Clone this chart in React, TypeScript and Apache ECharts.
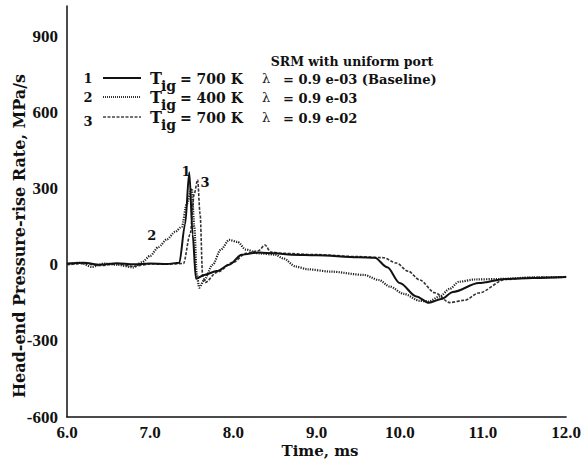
import React, { useEffect, useRef } from "react";
import * as echarts from "echarts";

const X_TICKS = [6, 7, 8, 9, 10, 11, 12];
const Y_MIN = -600;
const Y_MAX = 1020;
const Y_STEP = 300;

const T1 = [6.0, 6.2, 6.4, 6.6, 6.8, 7.0, 7.2, 7.35, 7.42, 7.47, 7.51, 7.55, 7.65, 7.8, 7.95, 8.1, 8.3, 8.5, 8.7, 9.0, 9.5, 9.7, 9.85, 10.0, 10.2, 10.35, 10.5, 10.64, 10.95, 11.27, 11.6, 12.0];
const V1 = [5, 8, 0, 6, 2, 5, 3, 8, 160, 365, 120, -55, -40, -25, 0, 40, 48, 45, 40, 38, 30, 28, -10, -72, -125, -150, -135, -107, -72, -56, -52, -48];

const T2 = [6.0, 6.15, 6.3, 6.45, 6.6, 6.8, 6.9, 7.0, 7.1, 7.2, 7.3, 7.38, 7.44, 7.5, 7.53, 7.56, 7.59, 7.65, 7.75, 7.85, 7.95, 8.05, 8.15, 8.3, 8.5, 8.6, 8.75, 8.9, 9.17, 9.57, 9.75, 9.88, 10.05, 10.24, 10.35, 10.48, 10.6, 10.71, 10.9, 11.19, 11.6, 12.0];
const V2 = [2, 8, -8, 5, 0, -10, 10, 35, 70, 100, 130, 150, 240, 300, 150, -40, -90, -60, 0, 60, 98, 90, 60, 45, 40, 25, -7, -18, -27, -40, -60, -86, -115, -142, -145, -125, -95, -67, -58, -56, -50, -48];

const T3 = [6.0, 6.2, 6.4, 6.6, 6.8, 7.0, 7.2, 7.4, 7.48, 7.53, 7.57, 7.6, 7.63, 7.66, 7.8, 8.0, 8.15, 8.3, 8.38, 8.45, 8.6, 9.0, 9.5, 9.8, 9.96, 10.1, 10.24, 10.42, 10.6, 10.78, 10.95, 11.27, 11.6, 12.0];
const V3 = [0, 5, -3, 4, -6, 3, 2, 5, 120, 280, 335, 200, -40, -70, -30, 10, 45, 55, 78, 50, 45, 40, 32, 28, 7, -25, -60, -110, -149, -140, -111, -58, -50, -48];

const CURVE_LABELS = ["1", "2", "3"];
const LABEL_POS: [number, number][] = [[7.43, 367], [7.02, 117], [7.66, 326]];

const TITLE = "SRM with uniform port";
const X_NAME = "Time, ms";
const Y_NAME = "Head-end Pressure-rise Rate, MPa/s";
const LEGEND_TEMPS = ["700 K", "400 K", "700 K"];
const LEGEND_LAMBDAS = ["= 0.9 e-03 (Baseline)", "= 0.9 e-03", "= 0.9 e-02"];

const zip = (t: number[], v: number[]) => t.map((x, i) => [x, v[i]]);

const SERIF = "'Liberation Serif', serif";
const WIDE = "'DejaVu Serif', serif";

export default function App() {
  const ref = useRef<HTMLDivElement>(null);
  useEffect(() => {
    if (!ref.current) return;
    const chart = echarts.init(ref.current, null, { renderer: "svg" });
    const lineStyles: any[] = [
      { color: "#111", width: 2, type: "solid" },
      { color: "#222", width: 2.2, type: [1.2, 1.2] },
      { color: "#333", width: 1.6, type: [3, 1.5] },
    ];
    const datas = [zip(T1, V1), zip(T2, V2), zip(T3, V3)];
    const series = datas.map((d, i) => ({
      type: "line",
      data: d,
      showSymbol: false,
      symbol: "none",
      smooth: 0.3,
      smoothMonotone: "x",
      lineStyle: lineStyles[i],
      z: 3 - i,
      markPoint: {
        symbol: "circle",
        symbolSize: 0,
        data: [
          {
            coord: LABEL_POS[i],
            label: {
              show: true,
              formatter: CURVE_LABELS[i],
              color: "#111",
              fontFamily: WIDE,
              fontWeight: "bold",
              fontSize: 13,
            },
          },
        ],
      },
    }));

    const g: any[] = [];
    const rowY = [78, 97, 117];
    const styles = [
      { stroke: "#111", lineWidth: 2 },
      { stroke: "#333", lineWidth: 2, lineDash: [1, 1] },
      { stroke: "#444", lineWidth: 1.5, lineDash: [3, 1.5] },
    ];
    rowY.forEach((y, i) => {
      const dy = i === 2 ? 4 : 0;
      g.push({
        type: "text",
        x: 88,
        y: y + dy,
        style: { text: CURVE_LABELS[i], font: `bold 13px ${WIDE}`, fill: "#111", align: "center", verticalAlign: "middle" },
      });
      g.push({
        type: "line",
        shape: { x1: 103, y1: y, x2: 141, y2: y },
        style: styles[i],
      });
      g.push({
        type: "text",
        x: 150,
        y: y,
        style: { text: "T", font: `bold 16px ${WIDE}`, fill: "#111", verticalAlign: "middle" },
      });
      g.push({
        type: "text",
        x: 161,
        y: y + 8,
        style: { text: "ig", font: `bold 14px ${WIDE}`, fill: "#111", verticalAlign: "middle" },
      });
      g.push({
        type: "text",
        x: 180,
        y: y + 1,
        style: { text: "= " + LEGEND_TEMPS[i], font: `bold 14px ${WIDE}`, fill: "#111", verticalAlign: "middle" },
      });
      g.push({
        type: "text",
        x: 262,
        y: y,
        style: { text: "λ", font: `13px ${WIDE}`, fill: "#222", verticalAlign: "middle" },
      });
      g.push({
        type: "text",
        x: 283,
        y: y + 1,
        style: { text: LEGEND_LAMBDAS[i], font: `bold 13px ${WIDE}`, fill: "#111", verticalAlign: "middle" },
      });
    });
    g.push({
      type: "text",
      x: 352,
      y: 61,
      style: { text: TITLE, font: `bold 12.5px ${WIDE}`, fill: "#111", align: "center", verticalAlign: "middle" },
    });
    g.push({
      type: "text",
      x: 19,
      y: 236,
      rotation: Math.PI / 2,
      style: { text: Y_NAME, font: `bold 16px ${WIDE}`, fill: "#111", align: "center", verticalAlign: "middle" },
    });
    g.push({
      type: "text",
      x: 320,
      y: 451,
      style: { text: X_NAME, font: `bold 15px ${WIDE}`, fill: "#111", align: "center", verticalAlign: "middle" },
    });

    chart.setOption({
      animation: false,
      backgroundColor: "#fff",
      grid: { left: 67, right: 13, top: 6, bottom: 49, containLabel: false },
      xAxis: {
        type: "value",
        min: X_TICKS[0],
        max: X_TICKS[X_TICKS.length - 1],
        interval: 1,
        axisLine: { onZero: false, lineStyle: { color: "#111", width: 1.5 } },
        axisTick: { show: false },
        splitLine: { show: false },
        axisLabel: {
          formatter: (v: number) => v.toFixed(1),
          fontFamily: SERIF,
          fontWeight: "bold",
          fontSize: 17,
          color: "#111",
          margin: 7,
        },
      },
      yAxis: {
        type: "value",
        min: Y_MIN,
        max: Y_MAX,
        interval: Y_STEP,
        axisLine: { show: true, onZero: false, lineStyle: { color: "#111", width: 1.5 } },
        axisTick: { show: false },
        splitLine: { show: false },
        axisLabel: {
          showMaxLabel: false,
          fontFamily: SERIF,
          fontWeight: "bold",
          fontSize: 17,
          color: "#111",
          margin: 9,
        },
      },
      graphic: g,
      series,
    });
    return () => chart.dispose();
  }, []);
  return (
    <div
      ref={ref}
      style={{ position: "fixed", left: 0, top: 0, width: 584, height: 466, background: "#fff" }}
    />
  );
}
